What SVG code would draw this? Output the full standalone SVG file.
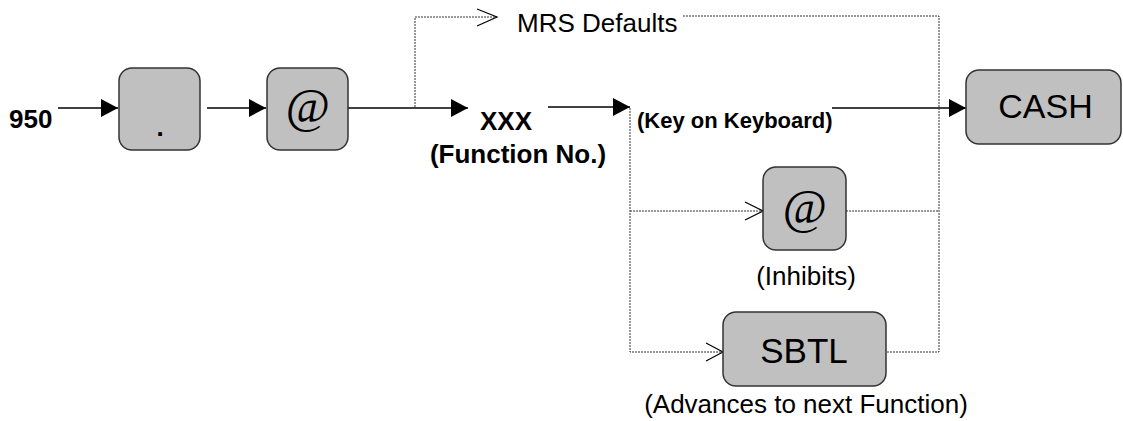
<svg xmlns="http://www.w3.org/2000/svg" width="1123" height="421" viewBox="0 0 1123 421">
<style>
.key{fill:#c0c0c0;stroke:#333;stroke-width:1.5}
.t{font-family:"Liberation Sans",Arial,sans-serif;fill:#000}
.b{font-weight:bold}
.at{font-family:"Liberation Serif","Times New Roman",serif;font-style:italic;fill:#000}
.solid{stroke:#000;stroke-width:1.5;fill:none}
.dot{stroke:#333;stroke-width:1;fill:none;stroke-dasharray:2,1}
.chev{stroke:#000;stroke-width:1.2;fill:none}
</style>
<defs>
<marker id="ah" markerWidth="17" markerHeight="18" refX="17" refY="9" orient="auto" markerUnits="userSpaceOnUse">
<path d="M0,0 L17,9 L0,18 Z" fill="#000"/>
</marker>
</defs>
<rect width="1123" height="421" fill="#fff"/>
<g id="connectors">
<path class="solid" d="M58,108 H118" marker-end="url(#ah)"/>
<path class="solid" d="M207,108 H266" marker-end="url(#ah)"/>
<path class="solid" d="M348,108 H468" marker-end="url(#ah)"/>
<path class="solid" d="M548,107 H630" marker-end="url(#ah)"/>
<path class="solid" d="M832,108 H966" marker-end="url(#ah)"/>
<path class="dot" d="M415,107 V17 H497"/>
<path class="chev" d="M477,9 L497,17 L477,26"/>
<path class="dot" d="M683,16 H939 V352 H886"/>
<path class="dot" d="M846,211 H939"/>
<path class="dot" d="M630,108 V352 H723"/>
<path class="dot" d="M630,211 H763"/>
<path class="chev" d="M745,202 L763,211 L745,220"/>
<path class="chev" d="M706,343 L723,352 L706,361"/>
</g>
<g id="n950"><text class="t b" x="9" y="128" font-size="26">950</text></g>
<g id="dotkey"><rect class="key" x="119" y="68" width="81" height="82" rx="13"/><text class="t b" x="160" y="136" font-size="26" text-anchor="middle">.</text></g>
<g id="atkey"><rect class="key" x="267" y="68" width="81" height="82" rx="13"/><text class="at" x="307.5" y="122" font-size="48" text-anchor="middle">@</text></g>
<g id="mrs"><text class="t" x="517" y="32" font-size="26">MRS Defaults</text></g>
<g id="xxx"><text class="t b" x="506" y="130" font-size="26" text-anchor="middle">XXX</text><text class="t b" x="518" y="163" font-size="26" text-anchor="middle">(Function No.)</text></g>
<g id="keyonkb"><text class="t b" x="637" y="128" font-size="22">(Key on Keyboard)</text></g>
<g id="cash"><rect class="key" x="966" y="70" width="155" height="74" rx="13"/><text class="t" x="1045.5" y="118" font-size="34" text-anchor="middle">CASH</text></g>
<g id="inhibit"><rect class="key" x="763" y="167" width="83" height="83" rx="13"/><text class="at" x="804.5" y="223" font-size="48" text-anchor="middle">@</text><text class="t" x="806" y="285" font-size="26" text-anchor="middle">(Inhibits)</text></g>
<g id="sbtl"><rect class="key" x="723" y="312" width="163" height="74" rx="13"/><text class="t" x="804" y="363" font-size="35" text-anchor="middle">SBTL</text><text class="t" x="806" y="413" font-size="26" text-anchor="middle">(Advances to next Function)</text></g>
</svg>
